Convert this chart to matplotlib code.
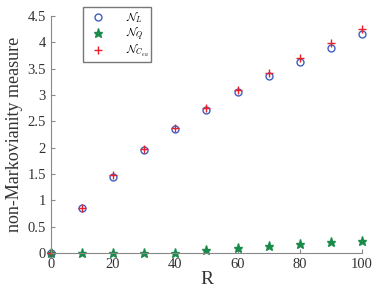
import matplotlib
matplotlib.use("Agg")
import matplotlib.pyplot as plt

R = [0, 10, 20, 30, 40, 50, 60, 70, 80, 90, 100]
N_L = [0, 0.85, 1.45, 1.95, 2.35, 2.72, 3.05, 3.35, 3.63, 3.90, 4.15]
N_Q = [0, 0, 0, 0, 0, 0.05, 0.10, 0.14, 0.17, 0.20, 0.22]
N_Cea = [0, 0.86, 1.48, 1.98, 2.38, 2.76, 3.10, 3.42, 3.70, 3.98, 4.25]

plt.rcParams['font.family'] = ['Liberation Serif', 'DejaVu Serif']
plt.rcParams['mathtext.fontset'] = 'cm'

fig = plt.figure(figsize=(3.74, 2.90), dpi=100)
ax = fig.add_axes([0.136, 0.128, 0.832, 0.817])

ax.plot(R, N_L, linestyle='none', marker='o', markersize=5, markerfacecolor='none',
        markeredgecolor='#3f5fc0', markeredgewidth=1.0, label=r'$\mathcal{N}_L$', clip_on=False)
ax.plot(R, N_Q, linestyle='none', marker='*', markersize=6.5, markerfacecolor='#1a8a4a',
        markeredgecolor='#1a8a4a', label=r'$\mathcal{N}_Q$', clip_on=False)
ax.plot(R, N_Cea, linestyle='none', marker='+', markersize=6, color='#e8202a',
        markeredgewidth=1.0, label=r'$\mathcal{N}_{C_{ea}}$', clip_on=False)

ax.set_xlim(0, 100)
ax.set_ylim(0, 4.5)
ax.set_xticks(range(0, 101, 20))
ax.set_yticks([0, 0.5, 1, 1.5, 2, 2.5, 3, 3.5, 4, 4.5])
ax.set_yticklabels(['0', '0.5', '1', '1.5', '2', '2.5', '3', '3.5', '4', '4.5'])
for s in ['top', 'right']:
    ax.spines[s].set_visible(False)
for s in ['left', 'bottom']:
    ax.spines[s].set_color('#888888')
    ax.spines[s].set_linewidth(0.8)
ax.tick_params(direction='in', length=3, color='#888888', labelsize=10.5, labelcolor='#333333')
ax.set_xlabel('R', fontsize=14, color='#333333', labelpad=0)
ax.set_ylabel('non-Markovianity measure', fontsize=13, color='#333333', labelpad=3)

leg = ax.legend(loc='upper left', bbox_to_anchor=(0.222, 0.976), bbox_transform=fig.transFigure,
                borderaxespad=0, frameon=True, fancybox=False, fontsize=8, handletextpad=1.4,
                borderpad=0.25, labelspacing=0.05, handlelength=2.2)
leg.get_frame().set_edgecolor('#555555')
leg.get_frame().set_linewidth(1.0)

fig.savefig('out.png', dpi=100)
